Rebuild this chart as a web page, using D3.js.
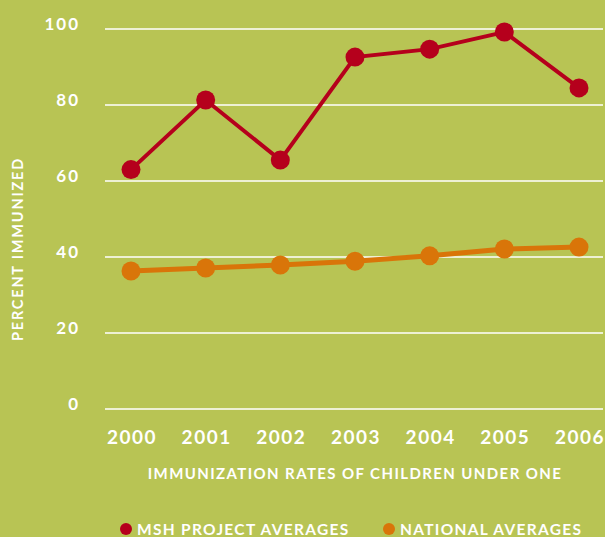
<!DOCTYPE html>
<html>
<head>
<meta charset="utf-8">
<script src="https://cdn.jsdelivr.net/npm/d3@7"></script>
<style>
  body { margin: 0; background: #b8c454; }
  svg { display: block; }
  text { font-family: Lato, "Open Sans", sans-serif; fill: #fff; font-weight: bold; }
</style>
</head>
<body>
<div id="chart"></div>
<script>
// values
var years = ["2000", "2001", "2002", "2003", "2004", "2005", "2006"];
var mshValues = [63, 81.3, 65.5, 92.6, 94.7, 99.2, 84.5];
var nationalValues = [36.3, 37.1, 37.9, 38.9, 40.3, 42.1, 42.6];
var yTicks = [0, 20, 40, 60, 80, 100];
var seriesNames = ["MSH PROJECT AVERAGES", "NATIONAL AVERAGES"];
var seriesColors = ["#b5001c", "#d97509"];

var width = 605, height = 537;

var svg = d3.select("#chart")
  .append("svg")
  .attr("width", width)
  .attr("height", height);

var x = d3.scalePoint()
  .domain(years)
  .range([131, 579]);

var y = d3.scaleLinear()
  .domain([0, 100])
  .range([409, 29]);

// grid lines
svg.append("g")
  .selectAll("line")
  .data(yTicks)
  .enter()
  .append("line")
  .attr("x1", 105)
  .attr("x2", 603)
  .attr("y1", function(d) { return y(d); })
  .attr("y2", function(d) { return y(d); })
  .attr("stroke", "#fff")
  .attr("stroke-width", 1.5);

// y tick labels
svg.append("g")
  .selectAll("text")
  .data(yTicks)
  .enter()
  .append("text")
  .attr("x", 80)
  .attr("y", function(d) { return y(d) + 1; })
  .attr("text-anchor", "end")
  .style("font-size", "17px")
  .style("letter-spacing", "2px")
  .text(function(d) { return d; });

// x tick labels
svg.append("g")
  .selectAll("text")
  .data(years)
  .enter()
  .append("text")
  .attr("x", function(d) { return x(d) + 1; })
  .attr("y", 444)
  .attr("text-anchor", "middle")
  .style("font-size", "19px")
  .style("letter-spacing", "1.5px")
  .text(function(d) { return d; });

// axis titles
svg.append("text")
  .attr("x", 355)
  .attr("y", 479)
  .attr("text-anchor", "middle")
  .style("font-size", "15px")
  .style("letter-spacing", "1.4px")
  .text("IMMUNIZATION RATES OF CHILDREN UNDER ONE");

svg.append("text")
  .attr("transform", "translate(23,249) rotate(-90)")
  .attr("text-anchor", "middle")
  .style("font-size", "14.5px")
  .style("letter-spacing", "1.8px")
  .text("PERCENT IMMUNIZED");

var line = d3.line()
  .x(function(d, i) { return x(years[i]); })
  .y(function(d) { return y(d); });

[nationalValues, mshValues].forEach(function(vals, k) {
  var color = k == 0 ? seriesColors[1] : seriesColors[0];
  var g = svg.append("g");
  g.append("path")
    .datum(vals)
    .attr("fill", "none")
    .attr("stroke", color)
    .attr("stroke-width", k == 0 ? 5 : 4)
    .attr("d", line);
  g.selectAll("circle")
    .data(vals)
    .enter()
    .append("circle")
    .attr("cx", function(d, i) { return x(years[i]); })
    .attr("cy", function(d) { return y(d); })
    .attr("r", 9.5)
    .attr("fill", color);
});

// legend
var legendX = [126, 389];
var legend = svg.append("g")
  .selectAll("g")
  .data(seriesNames)
  .enter()
  .append("g")
  .attr("transform", function(d, i) { return "translate(" + legendX[i] + ",529)"; });

legend.append("circle")
  .attr("r", 6)
  .attr("fill", function(d, i) { return seriesColors[i]; });

legend.append("text")
  .attr("x", 11)
  .attr("y", 5.5)
  .style("font-size", "15.5px")
  .style("letter-spacing", "1.3px")
  .text(function(d) { return d; });
</script>
</body>
</html>
